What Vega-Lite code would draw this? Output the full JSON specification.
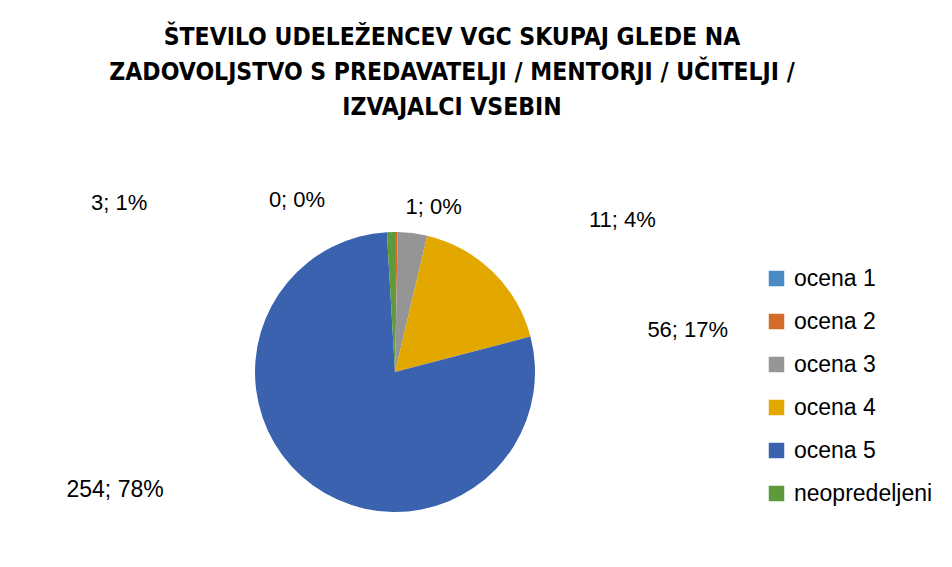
{
  "$schema": "https://vega.github.io/schema/vega-lite/v6.json",
  "autosize": {"type": "none"},
  "width": 790,
  "height": 464,
  "padding": {"left": 0, "top": 140, "right": 162, "bottom": 0},
  "background": "white",
  "config": {"view": {"stroke": null}, "text": {"font": "Liberation Sans"}},
  "title": {
    "text": ["ŠTEVILO UDELEŽENCEV VGC SKUPAJ GLEDE NA", "ZADOVOLJSTVO S PREDAVATELJI / MENTORJI / UČITELJI /", "IZVAJALCI VSEBIN"],
    "font": "Liberation Sans Narrow, DejaVu Sans Condensed, sans-serif",
    "fontSize": 24.5,
    "fontWeight": "bold",
    "color": "#000000",
    "lineHeight": 35,
    "anchor": "middle",
    "frame": "group",
    "dx": 57,
    "offset": 20
  },
  "data": {
    "values": [
      {"kategorija": "ocena 1", "n": 1, "stevilo": 0, "oznaka": "0; 0%"},
      {"kategorija": "ocena 2", "n": 2, "stevilo": 1, "oznaka": "1; 0%"},
      {"kategorija": "ocena 3", "n": 3, "stevilo": 11, "oznaka": "11; 4%"},
      {"kategorija": "ocena 4", "n": 4, "stevilo": 56, "oznaka": "56; 17%"},
      {"kategorija": "ocena 5", "n": 5, "stevilo": 254, "oznaka": "254; 78%"},
      {"kategorija": "neopredeljeni", "n": 6, "stevilo": 3, "oznaka": "3; 1%"}
    ]
  },
  "encoding": {
    "theta": {"field": "stevilo", "type": "quantitative", "stack": true},
    "order": {"field": "n", "type": "quantitative", "sort": "ascending"}
  },
  "layer": [
    {
      "mark": {"type": "arc", "outerRadius": 140},
      "encoding": {
        "color": {
          "field": "kategorija",
          "type": "nominal",
          "scale": {
            "domain": ["ocena 1", "ocena 2", "ocena 3", "ocena 4", "ocena 5", "neopredeljeni"],
            "range": ["#4a8bc4", "#d46b28", "#959595", "#e2a800", "#3a62ae", "#5e9a3c"]
          },
          "legend": {
            "title": null,
            "orient": "none",
            "legendX": 765,
            "legendY": 127,
            "symbolType": "square",
            "symbolSize": 240,
            "symbolStrokeWidth": 0,
            "labelFont": "Liberation Sans",
            "labelFontSize": 23,
            "labelColor": "#000000",
            "labelOffset": 6,
            "labelLimit": 300,
            "rowPadding": 19,
            "padding": 0
          }
        }
      }
    },
    {
      "mark": {"type": "text", "radius": 170, "fontSize": 22, "color": "#000000", "dx": -98, "dy": -2},
      "encoding": {"text": {"condition": {"test": "datum.kategorija === 'ocena 1'", "field": "oznaka"}, "value": ""}}
    },
    {
      "mark": {"type": "text", "radius": 170, "fontSize": 22, "color": "#000000", "dx": 37, "dy": 5},
      "encoding": {"text": {"condition": {"test": "datum.kategorija === 'ocena 2'", "field": "oznaka"}, "value": ""}}
    },
    {
      "mark": {"type": "text", "radius": 170, "fontSize": 22, "color": "#000000", "dx": 206, "dy": 17},
      "encoding": {"text": {"condition": {"test": "datum.kategorija === 'ocena 3'", "field": "oznaka"}, "value": ""}}
    },
    {
      "mark": {"type": "text", "radius": 170, "fontSize": 22, "color": "#000000", "dx": 174, "dy": 80},
      "encoding": {"text": {"condition": {"test": "datum.kategorija === 'ocena 4'", "field": "oznaka"}, "value": ""}}
    },
    {
      "mark": {"type": "text", "radius": 170, "fontSize": 23, "color": "#000000", "dx": -180, "dy": -20},
      "encoding": {"text": {"condition": {"test": "datum.kategorija === 'ocena 5'", "field": "oznaka"}, "value": ""}}
    },
    {
      "mark": {"type": "text", "radius": 170, "fontSize": 22, "color": "#000000", "dx": -271, "dy": 1},
      "encoding": {"text": {"condition": {"test": "datum.kategorija === 'neopredeljeni'", "field": "oznaka"}, "value": ""}}
    }
  ]
}
